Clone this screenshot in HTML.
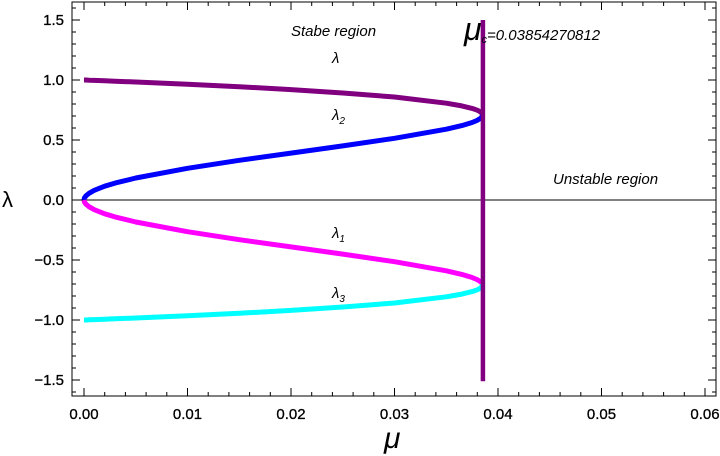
<!DOCTYPE html>
<html><head><meta charset="utf-8"><style>
body{margin:0;background:#fff}
svg{display:block;font-family:"Liberation Sans",sans-serif}
</style></head><body>
<svg id="chart" width="720" height="456" viewBox="0 0 720 456"></svg>
<script>
const muVals=[0,0.00005,0.0002,0.0005,0.001,0.002,0.003,0.005,0.01,0.015,0.02,0.025,0.03,0.035,0.0365,0.0375,0.038,0.0384,0.0385];
const lambdaUpper=[1,1,1,0.998,0.997,0.993,0.990,0.983,0.965,0.944,0.920,0.892,0.858,0.807,0.784,0.763,0.748,0.729,0.707];
const lambda2=[0,0.018,0.036,0.057,0.081,0.115,0.141,0.183,0.264,0.331,0.391,0.451,0.514,0.590,0.620,0.646,0.664,0.685,0.707];
const lambda1=[0,-0.018,-0.036,-0.057,-0.081,-0.115,-0.141,-0.183,-0.264,-0.331,-0.391,-0.451,-0.514,-0.590,-0.620,-0.646,-0.664,-0.685,-0.707];
const lambda3=[-1,-1,-1,-0.998,-0.997,-0.993,-0.990,-0.983,-0.965,-0.944,-0.920,-0.892,-0.858,-0.807,-0.784,-0.763,-0.748,-0.729,-0.707];
const muC=0.03854270812;
const xTicks=[0,0.01,0.02,0.03,0.04,0.05,0.06];
const xTickLabels=["0.00","0.01","0.02","0.03","0.04","0.05","0.06"];
const yTicks=[-1.5,-1,-0.5,0,0.5,1,1.5];
const yTickLabels=["\u22121.5","\u22121.0","\u22120.5","0.0","0.5","1.0","1.5"];

const L=72,R=716,T=2,B=396;
const X=v=>84+v*10350;
const Y=v=>200-v*120;
const svg=document.getElementById('chart');
const NS='http://www.w3.org/2000/svg';
function mk(tag,attrs,parent){const e=document.createElementNS(NS,tag);for(const k in attrs)e.setAttribute(k,attrs[k]);(parent||svg).appendChild(e);return e;}

const frame=mk('rect',{x:L,y:T,width:R-L,height:B-T,fill:'none',stroke:'#000','stroke-width':1});



const ticks=mk('g',{stroke:'#000','stroke-width':1});


for(let i=0;i<=31;i++){const v=i*0.002;const x=X(v);if(x>R)break;const maj=i%5===0;const len=maj?8:4;
 mk('line',{x1:x,y1:B,x2:x,y2:B-len},ticks);mk('line',{x1:x,y1:T,x2:x,y2:T+len},ticks);}
for(let i=-16;i<=16;i++){const v=i*0.1;const y=Y(v);if(y<T||y>B)continue;const maj=i%5===0;const len=maj?8:4;
 mk('line',{x1:L,y1:y,x2:L+len,y2:y},ticks);mk('line',{x1:R,y1:y,x2:R-len,y2:y},ticks);}

xTicks.forEach((v,i)=>{const t=mk('text',{x:X(v),y:419,'text-anchor':'middle','font-size':15,'stroke':'#000','stroke-width':0.3});t.textContent=xTickLabels[i];
 
 });
yTicks.forEach((v,i)=>{const t=mk('text',{x:64,y:Y(v)+5,'text-anchor':'end','font-size':15,'stroke':'#000','stroke-width':0.3});t.textContent=yTickLabels[i];
 
 });

const zl=mk('line',{x1:L,y1:Y(0),x2:R,y2:Y(0),stroke:'#000','stroke-width':1});



function curve(vals,color,name){const d=muVals.map((m,i)=>(i?'L':'M')+X(m).toFixed(1)+','+Y(vals[i]).toFixed(1)).join('');
 const p=mk('path',{d:d,fill:'none',stroke:color,'stroke-width':5,'stroke-linejoin':'round'});
 
 }
curve(lambdaUpper,'#800080','lambda-upper-curve');
curve(lambda2,'#0000ff','lambda2-curve');
curve(lambda1,'#ff00ff','lambda1-curve');
curve(lambda3,'#00ffff','lambda3-curve');

const vl=mk('line',{x1:X(muC),y1:Y(1.5),x2:X(muC),y2:Y(-1.51),stroke:'#800080','stroke-width':4.5});



function txt(x,y,s,size,name,extra){const t=mk('text',Object.assign({x:x,y:y,'font-size':size,'font-style':'italic'},extra||{}));t.innerHTML=s;
 
 return t;}
txt(291,36,'Stabe region',15,'stable-region-label');
txt(553,184,'Unstable region',15,'unstable-region-label');
txt(332,63,'λ',15,'lambda-label');
txt(332,120,'λ<tspan font-size="10" dy="4">2</tspan>',15,'lambda2-label');
txt(332,238,'λ<tspan font-size="10" dy="4">1</tspan>',15,'lambda1-label');
txt(332,298,'λ<tspan font-size="10" dy="4">3</tspan>',15,'lambda3-label');
txt(464,40,'μ<tspan font-size="11" dy="3">c</tspan><tspan font-size="15" dy="-3">=0.03854270812</tspan>',32,'critical-mu-label');
txt(2,207,'λ',22,'y-axis-title',{'font-style':'normal'});
txt(384,448,'μ',30,'x-axis-title');
</script>
</body></html>
